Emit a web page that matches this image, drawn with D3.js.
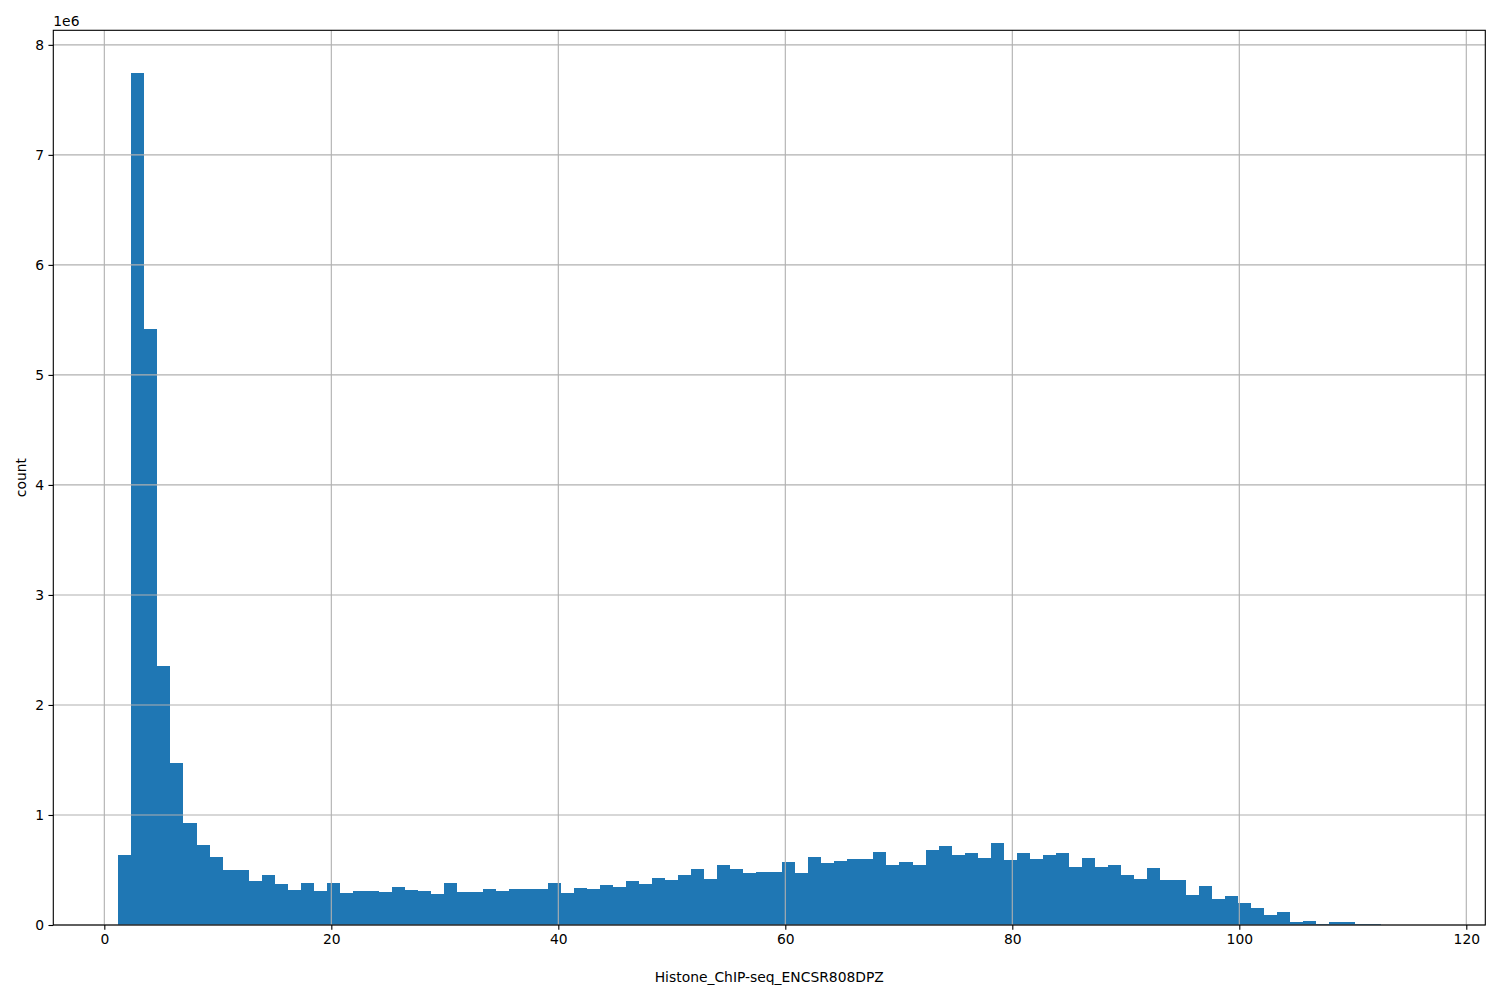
<!DOCTYPE html>
<html>
<head>
<meta charset="utf-8">
<script src="https://cdn.jsdelivr.net/npm/d3@7"></script>
<style>
  html, body { margin: 0; padding: 0; background: #ffffff; }
  svg text { font-family: "DejaVu Sans", sans-serif; fill: #000; }
</style>
</head>
<body>
<svg id="chart" width="1500" height="1000"></svg>
<script>
// ---- data (counts in millions, 100 equal-width bins) ----
const binStart = 1.24;
const binWidth = 1.147;
const counts = [
  0.636, 7.745, 5.42, 2.355, 1.473, 0.927, 0.727, 0.618, 0.5, 0.5,
  0.4, 0.455, 0.373, 0.318, 0.382, 0.309, 0.382, 0.291, 0.309, 0.309,
  0.30, 0.345, 0.318, 0.309, 0.282, 0.382, 0.30, 0.30, 0.327, 0.309,
  0.327, 0.327, 0.327, 0.382, 0.291, 0.336, 0.327, 0.364, 0.345, 0.40,
  0.373, 0.427, 0.409, 0.455, 0.509, 0.418, 0.545, 0.509, 0.473, 0.482,
  0.482, 0.573, 0.473, 0.618, 0.564, 0.582, 0.60, 0.60, 0.664, 0.545,
  0.573, 0.545, 0.682, 0.718, 0.636, 0.655, 0.609, 0.745, 0.591, 0.655,
  0.60, 0.636, 0.655, 0.527, 0.609, 0.527, 0.545, 0.455, 0.418, 0.518,
  0.409, 0.409, 0.273, 0.355, 0.236, 0.264, 0.20, 0.155, 0.091, 0.118,
  0.027, 0.036, 0.009, 0.027, 0.027, 0.009, 0.009, 0.003, 0.002, 0.001
];
const xTicks = [0, 20, 40, 60, 80, 100, 120];
const yTicks = [0, 1, 2, 3, 4, 5, 6, 7, 8];
const yOffsetLabel = "1e6";
const xLabel = "Histone_ChIP-seq_ENCSR808DPZ";
const yLabel = "count";

// ---- layout ----
const FS = "13.89px";
const LW = 1.11;
const TL = 4.86;
const plot = { left: 53.3, top: 30.3, right: 1485.3, bottom: 925 };
const svg = d3.select("#chart");

const bins = counts.map((c, i) => ({
  x0: binStart + i * binWidth,
  x1: binStart + (i + 1) * binWidth,
  v: c * 1e6
}));
const xMin = bins[0].x0, xMax = bins[bins.length - 1].x1;
const xPad = 0.05 * (xMax - xMin);
const x = d3.scaleLinear().domain([xMin - xPad, xMax + xPad]).range([plot.left, plot.right]);
const yMax = d3.max(bins, d => d.v) * 1.05;
const y = d3.scaleLinear().domain([0, yMax]).range([plot.bottom, plot.top]);

// bars
svg.append("g").selectAll("rect").data(bins).join("rect")
  .attr("x", d => x(d.x0))
  .attr("width", d => x(d.x1) - x(d.x0))
  .attr("y", d => y(d.v))
  .attr("height", d => y(0) - y(d.v))
  .attr("fill", "#1f77b4")
  .attr("shape-rendering", "crispEdges");

// grid (drawn above patches, like matplotlib)
const grid = svg.append("g").attr("stroke", "#b0b0b0").attr("stroke-width", LW);
grid.selectAll("line.gx").data(xTicks).join("line")
  .attr("x1", d => x(d)).attr("x2", d => x(d))
  .attr("y1", plot.top).attr("y2", plot.bottom);
grid.selectAll("line.gy").data(yTicks).join("line")
  .attr("x1", plot.left).attr("x2", plot.right)
  .attr("y1", d => y(d * 1e6)).attr("y2", d => y(d * 1e6));

// axes via d3
const xAxis = d3.axisBottom(x).tickValues(xTicks).tickSize(TL).tickPadding(4.4).tickFormat(d3.format("d"));
const yAxis = d3.axisLeft(y).tickValues(yTicks.map(v => v * 1e6)).tickSize(TL).tickPadding(4.4)
  .tickFormat(v => d3.format("d")(v / 1e6));

const gx = svg.append("g").attr("transform", `translate(0,${plot.bottom})`).call(xAxis);
const gy = svg.append("g").attr("transform", `translate(${plot.left},0)`).call(yAxis);
[gx, gy].forEach(g => {
  g.select(".domain").remove();
  g.selectAll("line").attr("stroke", "#000").attr("stroke-width", LW);
  g.selectAll("text").attr("font-size", FS).attr("font-family", "DejaVu Sans, sans-serif").attr("fill", "#000");
});

// spines
svg.append("rect")
  .attr("x", plot.left).attr("y", plot.top)
  .attr("width", plot.right - plot.left).attr("height", plot.bottom - plot.top)
  .attr("fill", "none").attr("stroke", "#000").attr("stroke-width", LW);

// offset text
svg.append("text").attr("x", plot.left).attr("y", plot.top - 4.5)
  .attr("font-size", FS).text(yOffsetLabel);

// axis labels
svg.append("text")
  .attr("x", (plot.left + plot.right) / 2).attr("y", 982)
  .attr("text-anchor", "middle").attr("font-size", FS).text(xLabel);
svg.append("text")
  .attr("transform", `translate(26,${(plot.top + plot.bottom) / 2}) rotate(-90)`)
  .attr("text-anchor", "middle").attr("font-size", FS).text(yLabel);
</script>
</body>
</html>
